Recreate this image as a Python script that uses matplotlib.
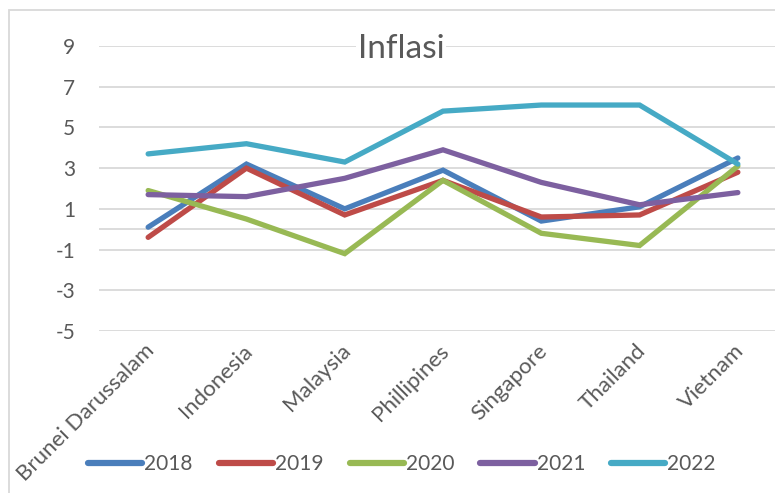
import matplotlib
matplotlib.use('Agg')
import matplotlib.pyplot as plt
from matplotlib.patches import Rectangle
from matplotlib.transforms import ScaledTranslation

countries = ['Brunei Darussalam', 'Indonesia', 'Malaysia', 'Phillipines',
             'Singapore', 'Thailand', 'Vietnam']
years = ['2018', '2019', '2020', '2021', '2022']

infl_2018 = [0.1, 3.2, 1.0, 2.9, 0.4, 1.1, 3.5]
infl_2019 = [-0.4, 3.0, 0.7, 2.4, 0.6, 0.7, 2.8]
infl_2020 = [1.9, 0.5, -1.2, 2.4, -0.2, -0.8, 3.1]
infl_2021 = [1.7, 1.6, 2.5, 3.9, 2.3, 1.2, 1.8]
infl_2022 = [3.7, 4.2, 3.3, 5.8, 6.1, 6.1, 3.2]

yticks = [-5, -3, -1, 1, 3, 5, 7, 9]

colors = ['#4a7ebb', '#be4b48', '#98b954', '#7d60a0', '#46aac5']
grey = '#d9d9d9'
txt = '#595959'

plt.rcParams['font.family'] = ['Lato', 'DejaVu Sans']
plt.rcParams['axes.unicode_minus'] = False

fig = plt.figure(figsize=(7.75, 4.93), dpi=100)
ax = fig.add_axes([99 / 775, 1 - 331 / 493, 688 / 775, 285 / 493])

series = [infl_2018, infl_2019, infl_2020, infl_2021, infl_2022]
x = range(len(countries))
for vals, yr, c in zip(series, years, colors):
    ax.plot(x, vals, color=c, lw=3.8, label=yr, solid_capstyle='round',
            solid_joinstyle='miter', zorder=3)

ax.set_xlim(-0.5, len(countries) - 0.5)
ax.set_ylim(-5, 9)
ax.set_yticks(yticks)
for v in yticks:
    ax.axhline(v, color=grey, lw=1.3, zorder=1)
ax.axhline(0, color=grey, lw=1.3, zorder=1)

for s in ax.spines.values():
    s.set_visible(False)
ax.tick_params(axis='both', length=0, colors=txt)
ax.tick_params(axis='y', pad=17, labelsize=15)
ax.set_xticks(list(x))
ax.set_xticklabels(countries, rotation=45, ha='right', va='top',
                   rotation_mode='anchor', fontsize=16)
ax.tick_params(axis='x', pad=7)
# nudge the slanted labels a bit to the left, like excel does
shift = ScaledTranslation(-3 / 72, 0, fig.dpi_scale_trans)
for lab in ax.get_xticklabels():
    lab.set_transform(lab.get_transform() + shift)

fig.text(401 / 775, 1 - 49 / 493, 'Inflasi', fontsize=24, color=txt,
         ha='center', va='center',
         bbox=dict(facecolor='white', edgecolor='none', pad=1))

leg = fig.legend(loc='center', bbox_to_anchor=(402 / 775, 1 - 464 / 493),
                 ncol=5, frameon=False, fontsize=15, handlelength=2.6,
                 handletextpad=0.1, columnspacing=1.25, labelcolor=txt)
for h in leg.get_lines():
    h.set_linewidth(4.5)
    h.set_solid_capstyle('round')

fig.patches.append(Rectangle((9 / 775, -0.1), 1.2, 1.1 - 10 / 493,
                             transform=fig.transFigure, fill=False,
                             edgecolor=grey, lw=1.3))

fig.savefig('out.png', dpi=100)
